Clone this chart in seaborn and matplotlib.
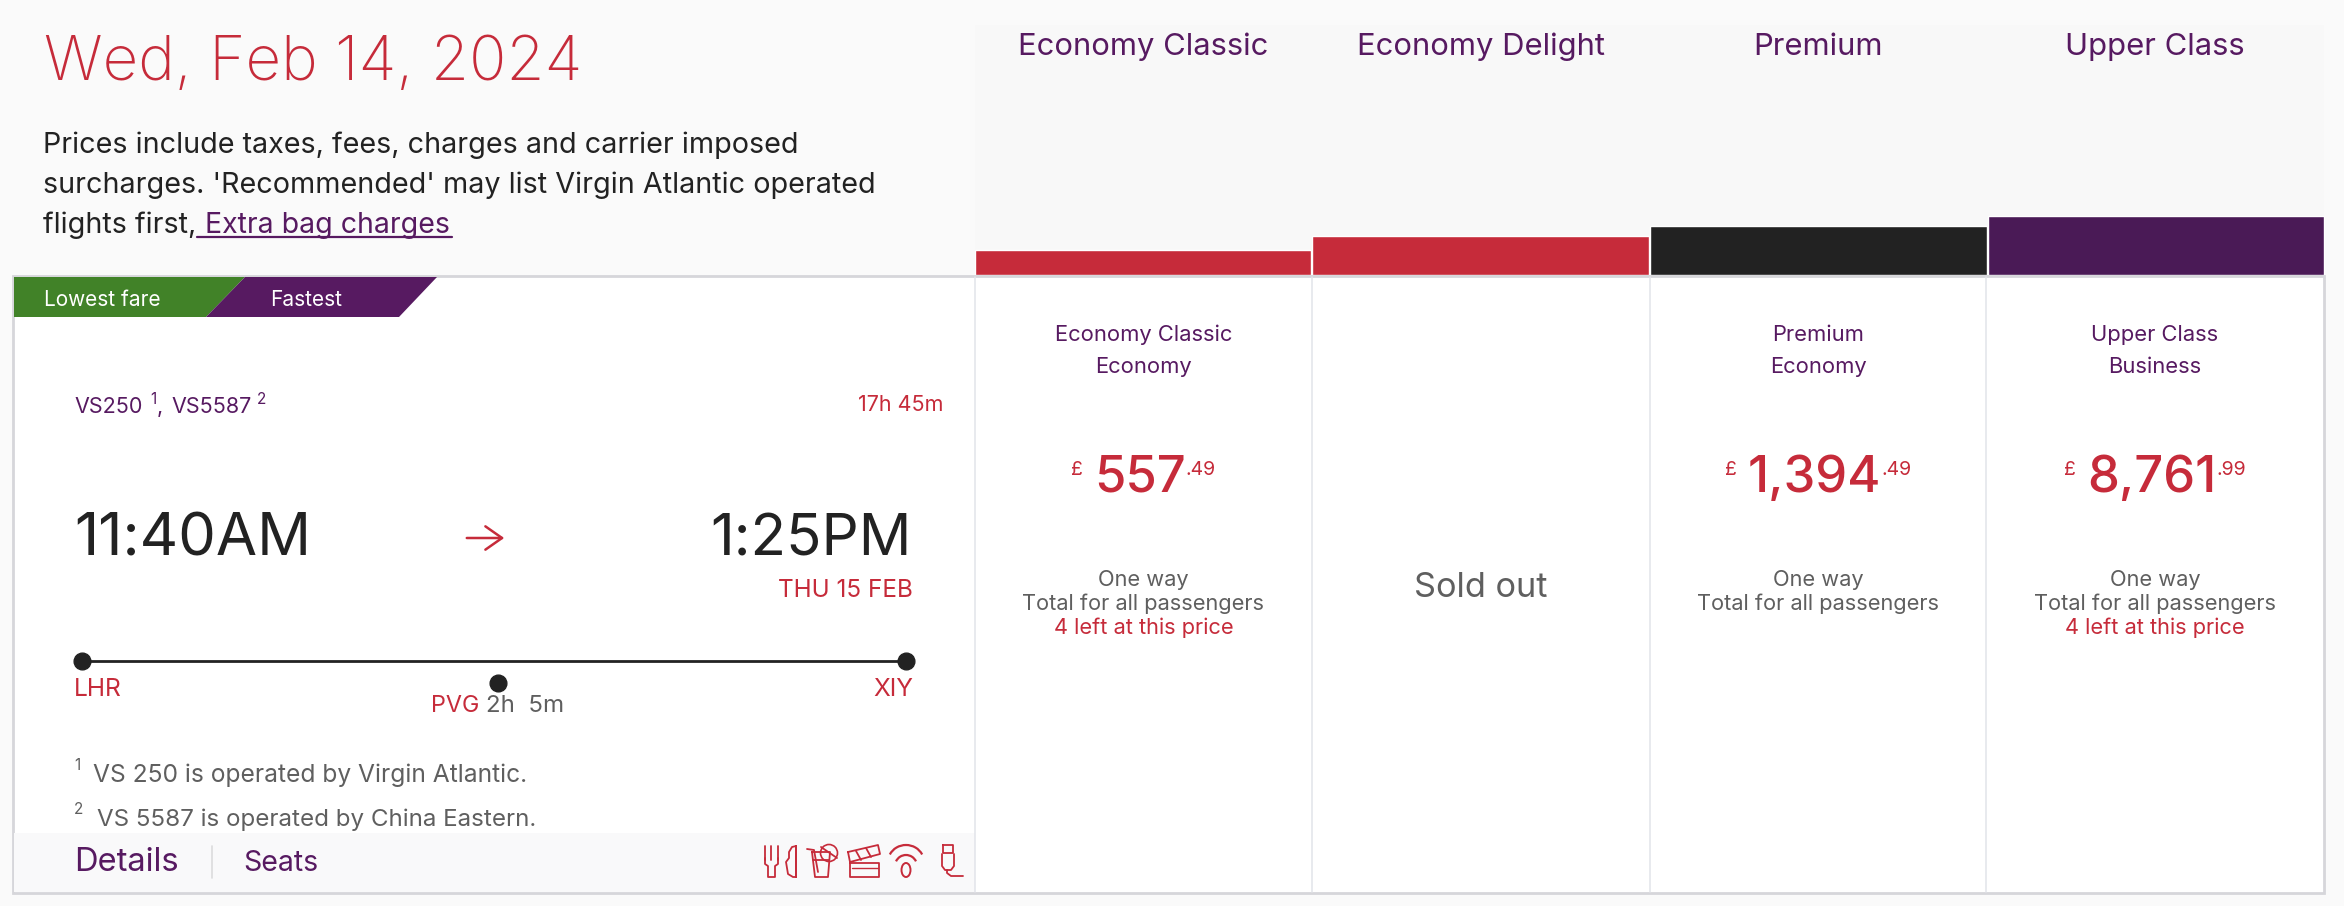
import matplotlib
matplotlib.use("Agg")
import matplotlib.pyplot as plt
import matplotlib.patches as mpatches
import seaborn as sns

# fare table
cabins = ["Economy Classic", "Economy Delight", "Premium", "Upper Class"]
bar_heights = [25, 39, 49, 59]
bar_colors = ["#c62b3a", "#c62b3a", "#222222", "#4a1a56"]
fare_names = ["Economy Classic", None, "Premium", "Upper Class"]
fare_types = ["Economy", None, "Economy", "Business"]
pounds = ["557", None, "1,394", "8,761"]
pence = [".49", None, ".49", ".99"]
seats_left = ["4 left at this price", None, None, "4 left at this price"]

# flight
flight_date = "Wed, Feb 14, 2024"
depart = "11:40AM"
arrive = "1:25PM"
arrive_date = "THU 15 FEB"
duration = "17h 45m"
stops = ["LHR", "PVG", "XIY"]

RED = "#c62b3a"
PURPLE = "#571a61"
DARK = "#222222"
GREY = "#5f5f5f"
W, H = 2344, 906
col_edges = [975, 1312, 1650, 1986, 2324]

sns.set_theme(style="white")
plt.rcParams["font.family"] = ["Inter", "DejaVu Sans"]

fig = plt.figure(figsize=(W / 100, H / 100), dpi=100, facecolor="#fafafa")
ax = fig.add_axes([0, 0, 1, 1])
ax.set_xlim(0, W)
ax.set_ylim(H, 0)
ax.axis("off")


def txt(x, y, s, size, color=DARK, ha="left", weight="normal"):
    return ax.text(x, y, s, fontsize=size, color=color, ha=ha, va="baseline", weight=weight)


# panels
ax.add_patch(mpatches.Rectangle((975, 25), 1349, 251, fc="#f8f8f8", ec="none"))
ax.add_patch(mpatches.Rectangle((13, 276), 2311, 617, fc="white", ec="#d6d6da", lw=2))
ax.add_patch(mpatches.Rectangle((14, 833), 961, 59, fc="#f9f9fa", ec="none"))
for x in col_edges[:-1]:
    ax.plot([x, x], [277, 892], color="#e2e4ea", lw=1.1)

# header
txt(44, 80, flight_date, 44.5, RED, weight="light")
txt(43, 153, "Prices include taxes, fees, charges and carrier imposed", 20.7)
txt(43, 193, "surcharges. 'Recommended' may list Virgin Atlantic operated", 20.7)
txt(43, 233, "flights first,", 20.7)
txt(205, 233, "Extra bag charges", 20.5, PURPLE)
ax.plot([197, 452], [237, 237], color=PURPLE, lw=1.6)

# badges
ax.add_patch(mpatches.Polygon([(14, 277), (245, 277), (206, 317), (14, 317)], fc="#418228", ec="none"))
ax.add_patch(mpatches.Polygon([(245, 277), (437, 277), (399, 317), (206, 317)], fc="#571a61", ec="none"))
txt(44, 306, "Lowest fare", 15, "white")
txt(270, 306, "Fastest", 15, "white")

# flight info
txt(74, 413, "VS250", 15.5, PURPLE)
txt(150, 404, "1", 11, PURPLE)
txt(157, 413, ",", 15.5, PURPLE)
txt(171, 413, "VS5587", 15.5, PURPLE)
txt(257, 404, "2", 11, PURPLE)
txt(943, 411, duration, 15.5, RED, ha="right")
txt(74, 555, depart, 43)
txt(912, 555, arrive, 42, ha="right")
ax.annotate("", xy=(507, 538), xytext=(464, 538),
            arrowprops=dict(arrowstyle="->,head_length=1.0,head_width=0.7", color=RED, lw=1.8))
txt(913, 597, arrive_date, 17.5, RED, ha="right")

# route line
ax.plot([82, 906], [661, 661], color=DARK, lw=2)
ax.scatter([82, 906, 498], [661, 661, 683], s=145, color=DARK, zorder=3)
txt(74, 696, stops[0], 17.7, RED)
txt(913, 696, stops[2], 17.7, RED, ha="right")
txt(431, 712, stops[1], 16.8, RED)
txt(486, 712, "2h  5m", 17.3, GREY)
txt(74, 770, "1", 11, GREY)
txt(93, 782, "VS 250 is operated by Virgin Atlantic.", 17.7, GREY)
txt(74, 814, "2", 11, GREY)
txt(97, 826, "VS 5587 is operated by China Eastern.", 17.4, GREY)

# footer tabs
txt(74, 871, "Details", 23.5, PURPLE)
ax.plot([212, 212], [846, 878], color="#dcdcdc", lw=1.2)
txt(243, 871, "Seats", 20.5, PURPLE)

# footer icons
ic = dict(color=RED, lw=1.3, solid_capstyle="round")
# fork and knife
for x in (765, 771, 778):
    ax.plot([x, x], [846, 860], **ic)
ax.plot([765, 765, 768, 768, 775, 775, 778, 778], [858, 864, 866, 877, 877, 866, 864, 858], **ic)
ax.plot([796, 796, 793, 788, 786, 789, 789, 792, 796, 796], [846, 877, 877, 874, 862, 858, 852, 847, 846, 877], **ic)
# drink
ax.plot([812, 830, 828, 815, 812], [852, 852, 877, 877, 852], **ic)
ax.plot([813, 829], [860, 860], **ic)
ax.plot([807, 814, 818], [849, 850, 872], **ic)
ax.add_patch(mpatches.Circle((829, 853), 8.5, fc="none", ec=RED, lw=1.2))
ax.plot([821, 837], [847, 858], **ic)
# clapper board
ax.plot([850, 850, 879, 879, 850], [863, 877, 877, 863, 863], **ic)
ax.plot([848, 878, 880, 850, 848], [852, 845, 854, 862, 852], **ic)
ax.plot([856, 861], [851, 860], **ic)
ax.plot([866, 871], [848, 857], **ic)
ax.plot([852, 878], [868, 868], color=RED, lw=1.0)
# wifi
ax.add_patch(mpatches.Arc((906, 862), 36, 34, theta1=205, theta2=335, ec=RED, lw=1.6))
ax.add_patch(mpatches.Arc((906, 866), 22, 22, theta1=205, theta2=335, ec=RED, lw=1.6))
ax.add_patch(mpatches.Ellipse((906, 870), 9, 14, fc="none", ec=RED, lw=1.4))
# usb
ax.plot([943, 943, 953, 953, 943], [845, 853, 853, 845, 845], **ic)
ax.plot([942, 942, 945, 951, 954, 954], [854, 866, 870, 870, 866, 854], **ic)
ax.plot([947, 947, 951, 963], [870, 873, 876, 876], **ic)

# fare columns
renderer = fig.canvas.get_renderer()
for i, cabin in enumerate(cabins):
    cx = (col_edges[i] + col_edges[i + 1]) / 2
    txt(cx, 55, cabin, 22.3, PURPLE, ha="center")
    if pounds[i] is None:
        txt(cx, 597, "Sold out", 24.7, GREY, ha="center")
        continue
    txt(cx, 341, fare_names[i], 15.8, PURPLE, ha="center")
    txt(cx, 373, fare_types[i], 15.8, PURPLE, ha="center")
    # lay the price pieces side by side, centred on the column
    parts = [txt(0, 475, "£", 14, RED), txt(0, 492, pounds[i], 36.5, RED, weight="medium"), txt(0, 475, pence[i], 14, RED)]
    widths = [p.get_window_extent(renderer).width for p in parts]
    gap = 11
    x = cx - (sum(widths) + gap) / 2
    parts[0].set_x(x)
    parts[1].set_x(x + widths[0] + gap)
    parts[2].set_x(x + widths[0] + gap + widths[1])
    txt(cx, 586, "One way", 15.7, GREY, ha="center")
    txt(cx, 610, "Total for all passengers", 15.7, GREY, ha="center")
    if seats_left[i]:
        txt(cx, 634, seats_left[i], 15.7, RED, ha="center")

# cabin bars sit on top of the table
ax_bars = fig.add_axes([974 / W, 1 - 275 / H, 1351 / W, 59 / H])
sns.barplot(x=cabins, y=bar_heights, hue=cabins, palette=bar_colors, saturation=1,
            width=0.996, legend=False, ax=ax_bars)
ax_bars.set_ylim(0, 59)
ax_bars.axis("off")

fig.savefig("out.png", dpi=100, facecolor=fig.get_facecolor())
